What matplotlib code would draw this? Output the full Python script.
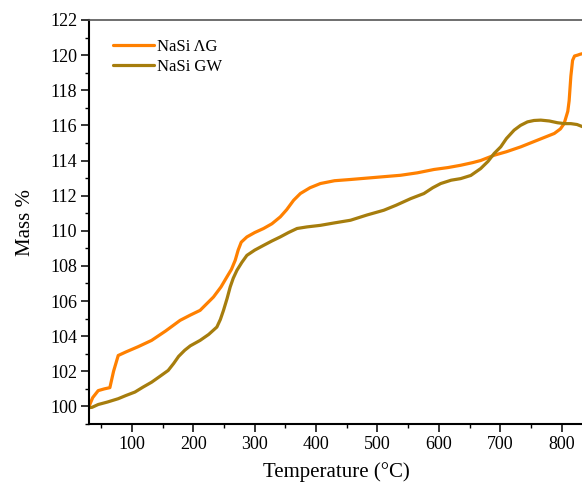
import matplotlib
matplotlib.use("Agg")
import matplotlib.pyplot as plt
from matplotlib.ticker import MultipleLocator

plt.rcParams['font.family'] = ['Liberation Serif', 'DejaVu Serif']

# NaSi AG (orange)
ag_x = [30, 36, 45, 55, 64, 70, 77.6, 90, 110, 132, 155, 178.4, 195, 211, 232.8, 245, 254.6,
        262, 268.2, 273, 278, 287.2, 300, 314.4, 328, 341.6, 352, 363.4, 374.3, 390, 407, 430,
        456, 490, 537.6, 565, 592, 615, 635.5, 655, 668, 690, 710, 733.5, 760, 788, 798,
        804, 810, 812.2, 815, 817.8, 821, 826, 830, 836]
ag_y = [100.0, 100.5, 100.9, 101.0, 101.07, 102.0, 102.9, 103.1, 103.4, 103.76, 104.3, 104.9,
        105.2, 105.47, 106.23, 106.8, 107.37, 107.8, 108.32, 108.9, 109.35, 109.65, 109.9,
        110.13, 110.4, 110.79, 111.2, 111.74, 112.12, 112.45, 112.69, 112.85, 112.92, 113.02,
        113.16, 113.3, 113.49, 113.6, 113.73, 113.88, 114.0, 114.3, 114.5, 114.78, 115.15,
        115.54, 115.8, 116.1, 116.8, 117.4, 118.8, 119.7, 119.95, 120.0, 120.05, 120.1]

# NaSi GW (olive)
gw_x = [30, 35, 45, 60, 77.6, 90, 104.9, 118, 132, 145, 159, 168, 176, 186, 195, 211, 225,
        238.3, 244, 249.1, 255, 260, 265, 271, 279, 287.2, 300, 314.4, 328, 341.6, 355,
        368.9, 385, 407, 430, 456, 483, 510.3, 530, 554, 575.6, 590, 603, 620, 635.5, 652,
        668, 680, 690, 700.8, 710, 722.6, 733, 744.3, 755, 766, 780, 793.3, 805, 815, 825, 836]
gw_y = [99.93, 99.95, 100.11, 100.25, 100.44, 100.62, 100.82, 101.1, 101.38, 101.7, 102.05,
        102.45, 102.85, 103.2, 103.45, 103.76, 104.1, 104.52, 104.95, 105.47, 106.15, 106.8,
        107.3, 107.75, 108.2, 108.6, 108.9, 109.17, 109.42, 109.65, 109.9, 110.13, 110.22,
        110.31, 110.45, 110.6, 110.9, 111.17, 111.45, 111.83, 112.12, 112.45, 112.69, 112.88,
        112.97, 113.15, 113.54, 113.95, 114.4, 114.78, 115.25, 115.73, 116.0, 116.2, 116.28,
        116.3, 116.25, 116.15, 116.1, 116.1, 116.05, 115.9]

labels = ['NaSi ΛG', 'NaSi GW']
colors = ['#FF8000', '#A67D0D']

fig = plt.figure(figsize=(5.82, 4.86), dpi=100)
ax = fig.add_axes([89/582, 62/486, 1.003 - 89/582, (424-20)/486])

ax.plot(ag_x, ag_y, color=colors[0], lw=2.3, label=labels[0],
        solid_capstyle='round', solid_joinstyle='round')
ax.plot(gw_x, gw_y, color=colors[1], lw=2.3, label=labels[1],
        solid_capstyle='round', solid_joinstyle='round')

ax.set_xlim(30, 836)
ax.set_ylim(99, 122)
ax.xaxis.set_major_locator(MultipleLocator(100))
ax.xaxis.set_minor_locator(MultipleLocator(50))
ax.yaxis.set_major_locator(MultipleLocator(2))
ax.yaxis.set_minor_locator(MultipleLocator(1))
ax.tick_params(which='major', direction='out', length=5.5, width=1.1, labelsize=13,
               top=False, right=False, pad=3)
ax.tick_params(which='minor', direction='out', length=3, width=1.0, top=False, right=False)
for s in ['left', 'bottom']:
    ax.spines[s].set_linewidth(1.5)
ax.spines['top'].set_linewidth(1.2)
ax.spines['top'].set_color('#555555')
ax.spines['right'].set_visible(False)

ax.set_xlabel('Temperature (°C)', fontsize=15, labelpad=7)
ax.set_ylabel('Mass %', fontsize=15, labelpad=11)

leg = ax.legend(loc='upper left', bbox_to_anchor=(0.018, 0.99), frameon=False, fontsize=12,
                handlelength=2.45, handletextpad=0.18, labelspacing=0.22)

fig.savefig('out.png', dpi=100)
